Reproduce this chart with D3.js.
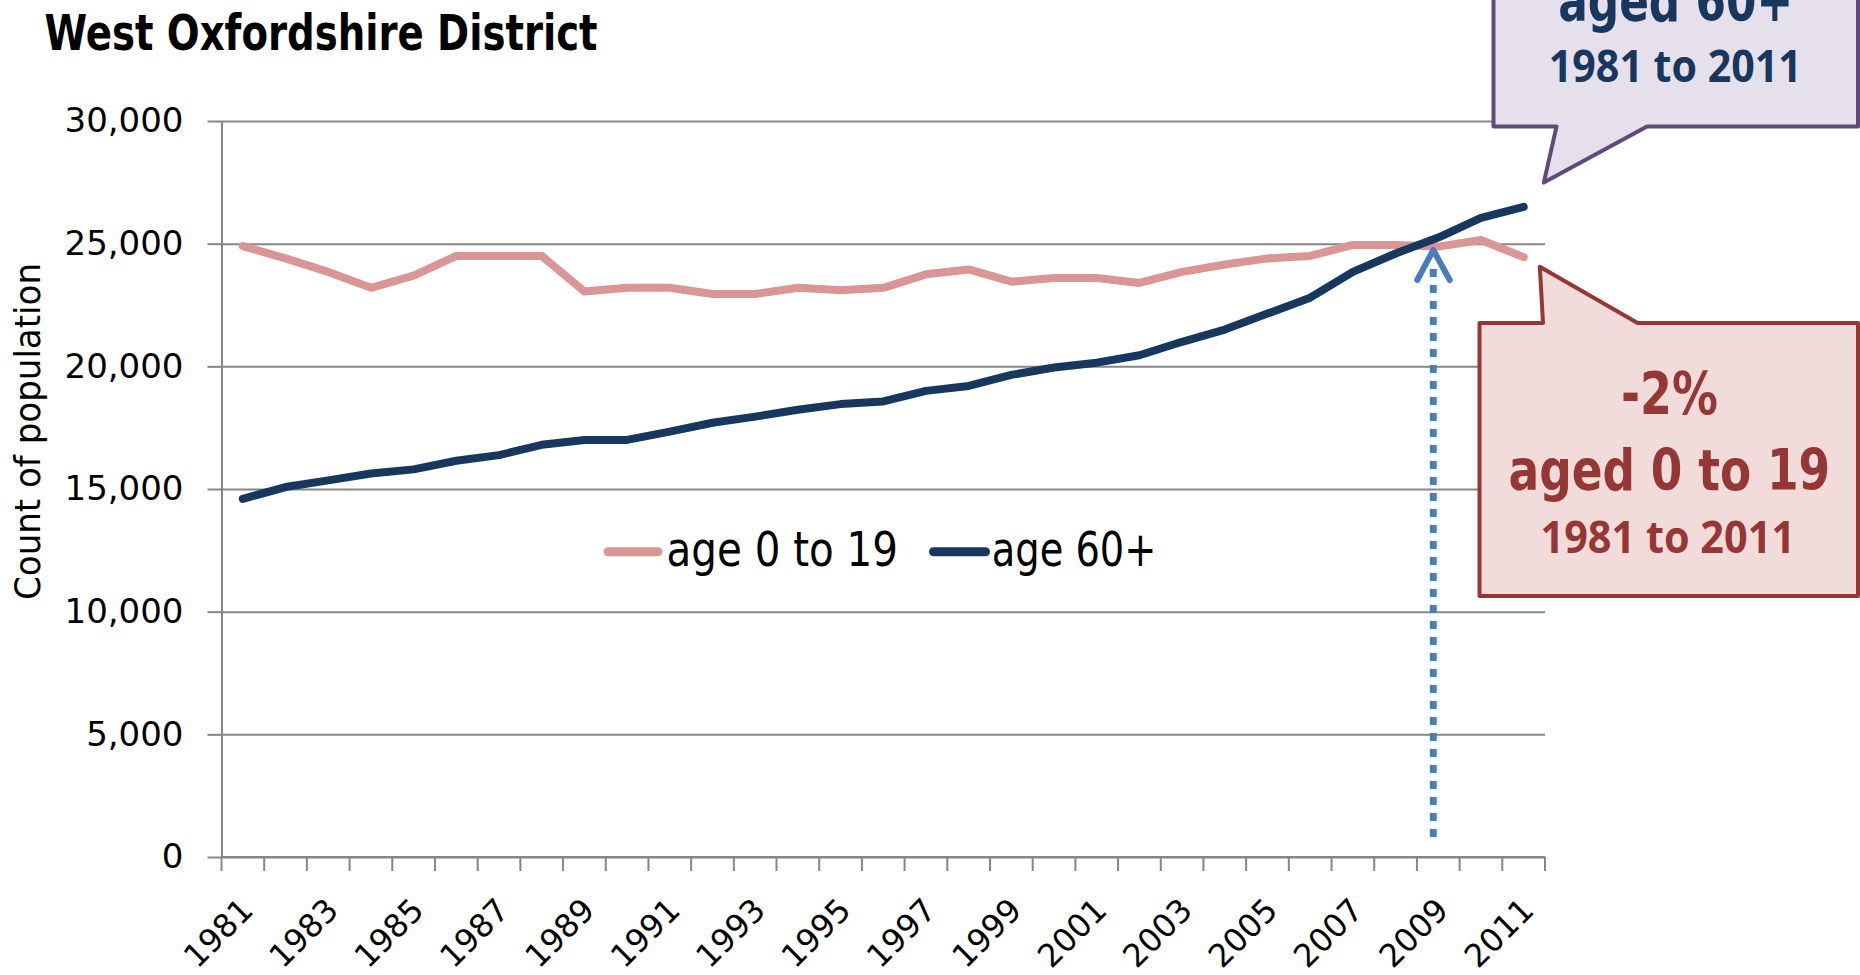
<!DOCTYPE html>
<html>
<head>
<meta charset="utf-8">
<script src="https://cdn.jsdelivr.net/npm/d3@7"></script>
<style>
  html, body { margin: 0; background: #fff; overflow: hidden; }
</style>
</head>
<body>
<svg id="chart" width="1860" height="975"></svg>
<script>
// data
const years = [1981, 1982, 1983, 1984, 1985, 1986, 1987, 1988, 1989, 1990,
  1991, 1992, 1993, 1994, 1995, 1996, 1997, 1998, 1999, 2000,
  2001, 2002, 2003, 2004, 2005, 2006, 2007, 2008, 2009, 2010, 2011];
const age0to19 = [24900, 24400, 23850, 23200, 23700, 24500, 24500, 24500, 23050, 23200,
  23200, 22950, 22950, 23200, 23100, 23200, 23750, 23950, 23450, 23600,
  23600, 23400, 23850, 24150, 24400, 24500, 24950, 24950, 24880, 25150, 24450];
const age60plus = [14600, 15080, 15350, 15630, 15800, 16150, 16380, 16800, 17000, 17000,
  17340, 17700, 17950, 18230, 18460, 18570, 19000, 19200, 19650, 19950,
  20150, 20450, 21000, 21500, 22150, 22800, 23850, 24600, 25250, 26050, 26500];
const yTicks = [0, 5000, 10000, 15000, 20000, 25000, 30000];
const xLabels = [1981, 1983, 1985, 1987, 1989, 1991, 1993, 1995, 1997, 1999,
  2001, 2003, 2005, 2007, 2009, 2011];
const seriesNames = ["age 0 to 19", "age 60+"];

const pink = "#d99694", navy = "#17375e", grid = "#868686";
const narrow = "'Liberation Sans Narrow', 'DejaVu Sans Condensed', 'Liberation Sans', sans-serif";

const svg = d3.select("#chart");
const plotL = 221.5, plotR = 1545, plotT = 121, plotB = 857;

const x = d3.scaleBand().domain(years).range([plotL, plotR]).padding(0);
const y = d3.scaleLinear().domain([0, 30000]).range([plotB, plotT]);
const cx = yr => x(yr) + x.bandwidth() / 2;

// gridlines
const gridG = svg.append("g")
  .attr("transform", `translate(${plotL},0)`)
  .call(d3.axisLeft(y).tickValues(yTicks).tickSize(-(plotR - plotL)).tickFormat(""));
gridG.select(".domain").remove();
gridG.selectAll("line").attr("stroke", grid).attr("stroke-width", 2);

// y axis
const yAxis = svg.append("g")
  .attr("transform", `translate(${plotL},0)`)
  .call(d3.axisLeft(y).tickValues(yTicks).tickSize(14).tickSizeOuter(0)
    .tickPadding(24).tickFormat(d3.format(",")));
yAxis.select(".domain").attr("stroke", grid).attr("stroke-width", 2);
yAxis.selectAll("line").attr("stroke", grid).attr("stroke-width", 2);
yAxis.selectAll("text")
  .attr("font-family", "'DejaVu Sans', sans-serif")
  .attr("font-size", 34)
  .attr("fill", "#000");

// x axis line + ticks between categories
svg.append("line")
  .attr("x1", plotL).attr("x2", plotR)
  .attr("y1", plotB).attr("y2", plotB)
  .attr("stroke", grid).attr("stroke-width", 2);
const bounds = years.map(yr => x(yr)).concat([plotR]);
svg.append("g").selectAll("line")
  .data(bounds)
  .join("line")
  .attr("x1", d => d).attr("x2", d => d)
  .attr("y1", plotB).attr("y2", plotB + 14)
  .attr("stroke", grid).attr("stroke-width", 2);

svg.append("g").selectAll("text")
  .data(xLabels)
  .join("text")
  .attr("transform", d => `translate(${cx(d) + 12},912) rotate(-45)`)
  .attr("text-anchor", "end")
  .attr("font-family", "'DejaVu Sans', sans-serif")
  .attr("font-size", 32)
  .attr("fill", "#000")
  .text(d => d);

// axis title
svg.append("text")
  .attr("transform", "translate(39.5,431.5) rotate(-90)")
  .attr("text-anchor", "middle")
  .attr("font-family", narrow)
  .attr("font-size", 35)
  .attr("textLength", 337)
  .attr("lengthAdjust", "spacingAndGlyphs")
  .text("Count of population");

// chart title
svg.append("text")
  .attr("x", 44.6).attr("y", 50)
  .attr("font-family", narrow)
  .attr("font-weight", "bold")
  .attr("font-size", 50)
  .attr("textLength", 553)
  .attr("lengthAdjust", "spacingAndGlyphs")
  .text("West Oxfordshire District");

// lines
const line = d3.line().x((d, i) => cx(years[i])).y(d => y(d));
[[age0to19, pink], [age60plus, navy]].forEach(([vals, col]) => {
  svg.append("path")
    .datum(vals)
    .attr("d", line)
    .attr("fill", "none")
    .attr("stroke", col)
    .attr("stroke-width", 8)
    .attr("stroke-linejoin", "round")
    .attr("stroke-linecap", "round");
});

// legend
const legendItems = [
  { name: seriesNames[0], color: pink, x1: 608, x2: 658, tx: 666.5, tw: 231.5 },
  { name: seriesNames[1], color: navy, x1: 933.5, x2: 985.5, tx: 991.8, tw: 164.6 }
];
legendItems.forEach(it => {
  svg.append("line")
    .attr("x1", it.x1).attr("x2", it.x2)
    .attr("y1", 551.7).attr("y2", 551.7)
    .attr("stroke", it.color).attr("stroke-width", 9)
    .attr("stroke-linecap", "round");
  svg.append("text")
    .attr("x", it.tx).attr("y", 566)
    .attr("font-family", narrow)
    .attr("font-size", 48)
    .attr("textLength", it.tw)
    .attr("lengthAdjust", "spacingAndGlyphs")
    .text(it.name);
});

// dotted arrow at the crossing
const ax = cx(2009) - 5;
svg.append("line")
  .attr("x1", ax).attr("x2", ax)
  .attr("y1", 269).attr("y2", 837)
  .attr("stroke", "#4a7ebb").attr("stroke-width", 7)
  .attr("stroke-dasharray", "8,8");
svg.append("path")
  .attr("d", `M${ax - 16},280 L${ax},250 L${ax + 16.5},280`)
  .attr("fill", "none")
  .attr("stroke", "#4a7ebb").attr("stroke-width", 6)
  .attr("stroke-linecap", "round").attr("stroke-linejoin", "round");

// callout: age 60+
svg.append("path")
  .attr("d", "M1493.5,-120 L1858,-120 L1858,126.6 L1647,126.6 L1543.8,182.6 L1556.5,126.6 L1493.5,126.6 Z")
  .attr("fill", "#e5e0ec").attr("stroke", "#604a7b").attr("stroke-width", 4)
  .attr("stroke-linejoin", "round");
svg.append("text")
  .attr("x", 1675.7).attr("y", 21)
  .attr("text-anchor", "middle")
  .attr("font-family", narrow).attr("font-weight", "bold")
  .attr("font-size", 57).attr("fill", navy)
  .attr("textLength", 235).attr("lengthAdjust", "spacingAndGlyphs")
  .text("aged 60+");
svg.append("text")
  .attr("x", 1675.3).attr("y", 82)
  .attr("text-anchor", "middle")
  .attr("font-family", "'Open Sans', 'Noto Sans', sans-serif").attr("font-weight", "bold")
  .attr("font-size", 44).attr("fill", navy)
  .attr("textLength", 253).attr("lengthAdjust", "spacingAndGlyphs")
  .text("1981 to 2011");

// callout: age 0 to 19
svg.append("path")
  .attr("d", "M1479.5,323 L1543,323 L1539.8,266.7 L1637.6,323 L1858,323 L1858,596 L1479.5,596 Z")
  .attr("fill", "#f2dcdb").attr("stroke", "#953735").attr("stroke-width", 4)
  .attr("stroke-linejoin", "round");
const red = "#953735";
svg.append("text")
  .attr("x", 1669.4).attr("y", 414)
  .attr("text-anchor", "middle")
  .attr("font-family", narrow).attr("font-weight", "bold")
  .attr("font-size", 58).attr("fill", red)
  .attr("textLength", 97).attr("lengthAdjust", "spacingAndGlyphs")
  .text("-2%");
svg.append("text")
  .attr("x", 1669.4).attr("y", 489.5)
  .attr("text-anchor", "middle")
  .attr("font-family", narrow).attr("font-weight", "bold")
  .attr("font-size", 57).attr("fill", red)
  .attr("textLength", 321.6).attr("lengthAdjust", "spacingAndGlyphs")
  .text("aged 0 to 19");
svg.append("text")
  .attr("x", 1667.8).attr("y", 553)
  .attr("text-anchor", "middle")
  .attr("font-family", "'Open Sans', 'Noto Sans', sans-serif").attr("font-weight", "bold")
  .attr("font-size", 44).attr("fill", red)
  .attr("textLength", 254.6).attr("lengthAdjust", "spacingAndGlyphs")
  .text("1981 to 2011");
</script>
</body>
</html>
